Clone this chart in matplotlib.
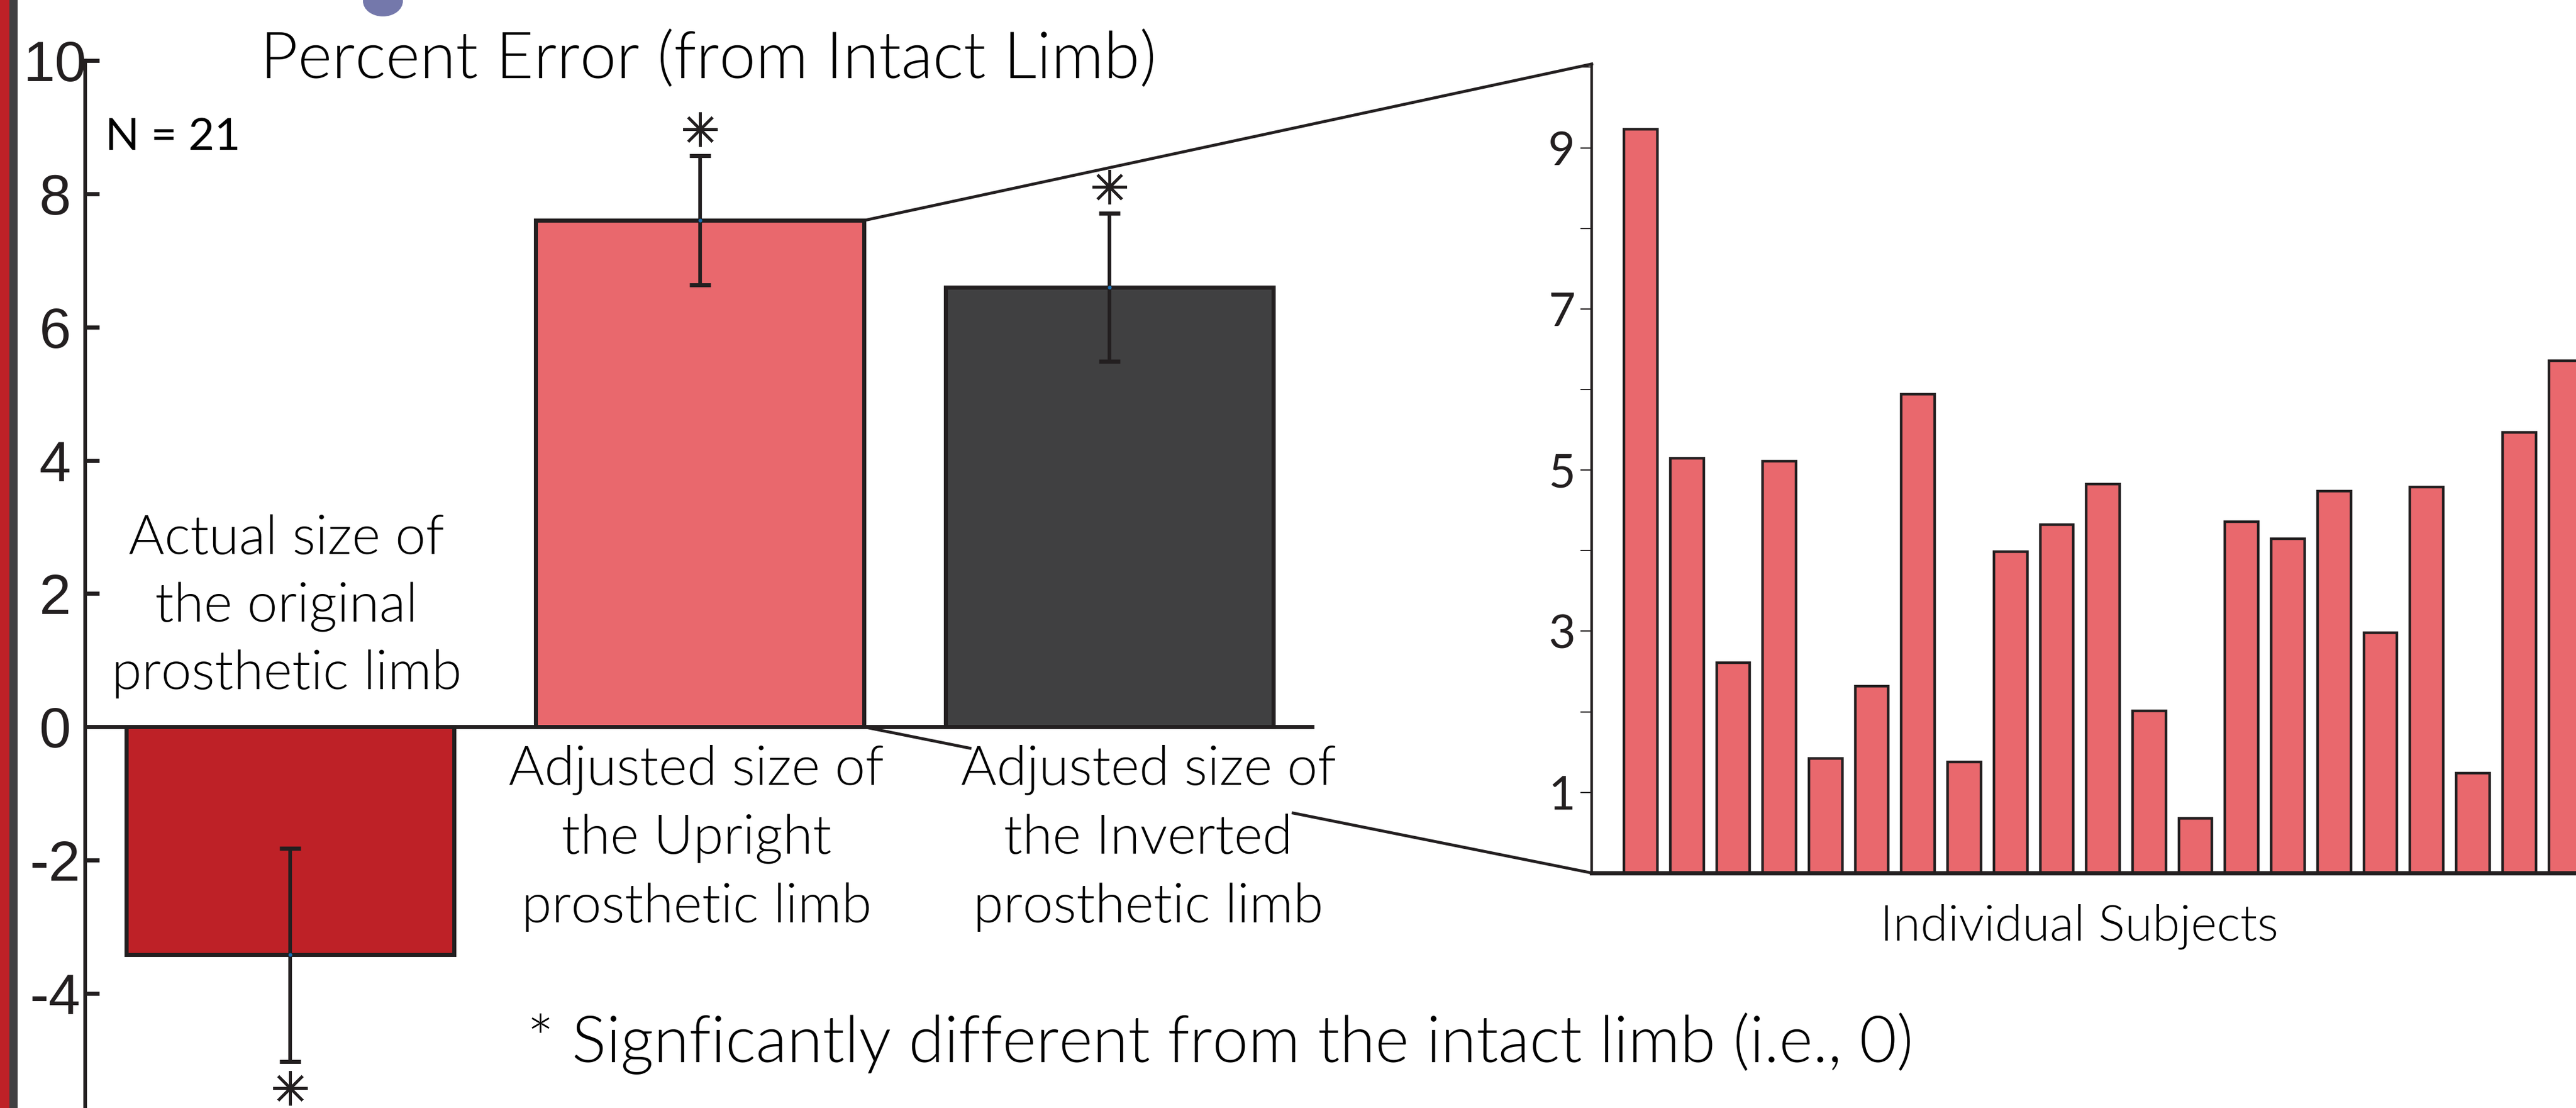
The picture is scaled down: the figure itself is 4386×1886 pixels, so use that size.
import numpy as np
import matplotlib
matplotlib.use("Agg")
import matplotlib.pyplot as plt
from matplotlib.lines import Line2D
from matplotlib.patches import Rectangle, Ellipse

# group means (percent error from intact limb) with error bars
categories = ["Actual size of\nthe original\nprosthetic limb",
              "Adjusted size of\nthe Upright\nprosthetic limb",
              "Adjusted size of\nthe Inverted\nprosthetic limb"]
means = [-3.42, 7.60, 6.60]
errors = [1.60, 0.97, 1.11]
significant = [True, True, True]
yticks_left = [-4, -2, 0, 2, 4, 6, 8, 10]

# upright-limb error for each subject
subject_err = [9.23, 5.15, 2.61, 5.11, 1.42, 2.32, 5.94, 1.38, 3.99, 4.32, 4.83,
               2.01, 0.68, 4.36, 4.15, 4.74, 2.98, 4.79, 1.24, 5.47, 6.36]
yticks_major = [1, 3, 5, 7, 9]
yticks_minor = [2, 4, 6, 8, 10]

title = "Percent Error (from Intact Limb)"
n_text = "N = 21"
footnote = "* Signficantly different from the intact limb (i.e., 0)"
xlabel_right = "Individual Subjects"

INK = "#231f20"
DARKRED = "#be2127"
SALMON = "#e9686d"
GREY = "#404041"
bar_colors = [DARKRED, SALMON, GREY]

W, H = 4386, 1886
fig = plt.figure(figsize=(W / 100, H / 100), dpi=100)
fig.patch.set_facecolor("white")

def fx(x):
    return x / W

def fy(y):
    return 1 - y / H

FONT = ["Lato", "DejaVu Sans"]
LIGHT = 300

# slide decoration on the left edge
fig.add_artist(Rectangle((0, 0), fx(16), 1, transform=fig.transFigure, color=DARKRED, lw=0))
fig.add_artist(Rectangle((fx(16), 0), fx(14), 1, transform=fig.transFigure, color="#414042", lw=0))
fig.add_artist(Ellipse((fx(652), fy(2)), fx(68), 52 / H, transform=fig.transFigure,
                       color="#7478ab", lw=0))

# ---- left panel: group means ----
ax = fig.add_axes([fx(145), 0, fx(2238) - fx(145), 1])
ax.set_xlim(-0.5, 2.5)
ax.set_ylim(-5.72, 10.91)
x = np.arange(len(means))
bw = 0.8
ax.bar(x, means, width=bw, color=bar_colors, edgecolor=INK, linewidth=5, zorder=2)
ax.errorbar(x, means, yerr=errors, fmt="none", ecolor=INK, elinewidth=4.5,
            capsize=13, capthick=5, zorder=3)
ax.plot(x, means, "o", color="#1a6fb5", ms=3.5, zorder=4)
ax.axhline(0, color=INK, lw=5, zorder=3)

for xi, m, e, sig in zip(x, means, errors, significant):
    if sig:
        ys = m + e + 0.4 if m > 0 else m - e - 0.4
        ax.plot(xi, ys, marker=(8, 2, 0), ms=42, mew=3.4, color=INK, zorder=4)

for s in ["top", "right", "bottom"]:
    ax.spines[s].set_visible(False)
ax.spines["left"].set_linewidth(4.5)
ax.spines["left"].set_color(INK)
ax.spines["left"].set_bounds(-5.72, 10)
ax.set_xticks([])
ax.set_yticks(yticks_left)
ax.set_yticklabels([str(v) for v in yticks_left], family=["Liberation Sans", "DejaVu Sans"],
                   fontsize=70, ha="center")
ax.tick_params(axis="y", direction="in", length=17, width=5, color=INK, pad=37, labelcolor=INK)
ax.patch.set_alpha(0)

# ---- right panel: individual subjects ----
ax2 = fig.add_axes([fx(2710), fy(1485.9), 1 - fx(2710), (1485.9 - 109) / H])
xs = np.arange(len(subject_err))
ax2.bar(xs, subject_err, width=0.72, color=SALMON, edgecolor=INK, linewidth=3.2, zorder=2)
ax2.set_xlim(-1.06, 20.23)
ax2.set_ylim(0, 10.04)
for s in ["top", "right"]:
    ax2.spines[s].set_visible(False)
ax2.spines["left"].set_linewidth(3.2)
ax2.spines["bottom"].set_linewidth(5.2)
ax2.spines["left"].set_color(INK)
ax2.spines["bottom"].set_color(INK)
ax2.spines["bottom"].set_zorder(3)
ax2.set_xticks([])
ax2.set_yticks(yticks_major)
ax2.set_yticks(yticks_minor, minor=True)
ax2.set_yticklabels([str(v) for v in yticks_major], family=FONT, fontsize=57)
ax2.tick_params(axis="y", which="both", direction="out", length=13.5, width=1.5,
                color=INK, pad=6.5, labelcolor=INK)
ax2.patch.set_alpha(0)

# ---- connector lines between the panels ----
to_fig = fig.transFigure.inverted()
top_a = to_fig.transform(ax.transData.transform((x[1] + bw / 2, means[1])))
top_b = to_fig.transform(ax2.transAxes.transform((0, 1)))
bot_a = to_fig.transform(ax.transData.transform((x[1] + bw / 2, 0)))
bot_b = to_fig.transform(ax2.transAxes.transform((0, 0)))
fig.add_artist(Line2D([top_a[0], top_b[0]], [top_a[1], top_b[1]], color=INK, lw=3.6,
                      transform=fig.transFigure))
# lower connector passes behind the third category label
for t0, t1 in [(0.0, 0.146), (0.59, 1.0)]:
    p0 = bot_a + (bot_b - bot_a) * t0
    p1 = bot_a + (bot_b - bot_a) * t1
    fig.add_artist(Line2D([p0[0], p1[0]], [p0[1], p1[1]], color=INK, lw=3.6,
                          transform=fig.transFigure))

# ---- text ----
fig.text(fx(1206), fy(133), title, ha="center", va="baseline", family=FONT,
         weight=LIGHT, fontsize=80, color="black")
fig.text(fx(179), fy(255), n_text, ha="left", va="baseline", family=FONT,
         fontsize=55, color="black")

label_cx = [488, 1186, 1955]
label_base = [[943, 1058, 1173], [1336, 1453, 1570], [1336, 1453, 1570]]
for lab, cx, bases in zip(categories, label_cx, label_base):
    for line, by in zip(lab.split("\n"), bases):
        fig.text(fx(cx), fy(by), line, ha="center", va="baseline", family=FONT,
                 weight=LIGHT, fontsize=67, color="black")

fig.text(fx(897), fy(1808), footnote, ha="left", va="baseline", family=FONT,
         weight=LIGHT, fontsize=79, color="black")
fig.text(fx(3540), fy(1600), xlabel_right, ha="center", va="baseline", family=FONT,
         weight=LIGHT, fontsize=61, color="black")

fig.savefig("out.png", dpi=100, facecolor="white")
